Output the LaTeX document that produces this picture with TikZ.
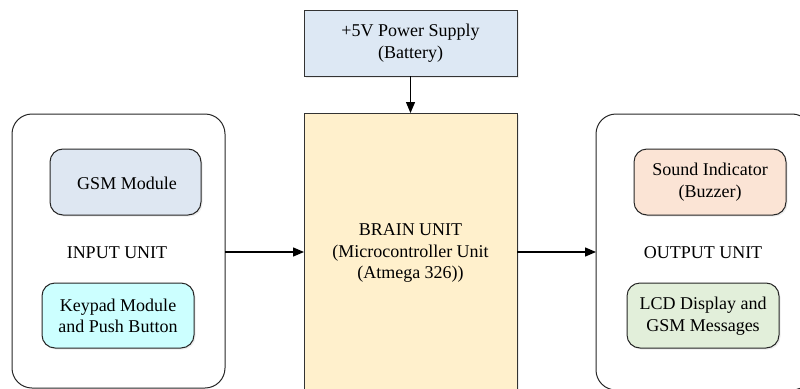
\documentclass[tikz,border=0pt]{standalone}
\usepackage{fontspec}
\setmainfont{Liberation Serif}
\usetikzlibrary{arrows.meta,shadows}
\definecolor{psfill}{HTML}{DDE8F4}
\definecolor{brainfill}{HTML}{FFF0CC}
\definecolor{gsmfill}{HTML}{DEE7F2}
\definecolor{keyfill}{HTML}{CCFFFF}
\definecolor{soundfill}{HTML}{FBE4D5}
\definecolor{lcdfill}{HTML}{E2EFDA}
\tikzset{
  txt/.style={font=\fontsize{18}{21.5}\selectfont, align=center},
  sharpbox/.style={draw=black!80, line width=1pt, drop shadow={shadow xshift=1.5pt, shadow yshift=-1.5pt, opacity=0.15}},
  innerbox/.style={draw=black!85, line width=1pt, rounded corners=13pt, drop shadow={shadow xshift=1.5pt, shadow yshift=-1.5pt, opacity=0.15}},
  outerbox/.style={draw=black!85, line width=1pt, rounded corners=20pt},
  conn/.style={-{Triangle[length=11pt,width=9pt]}, line width=1.3pt}
}
\begin{document}
\begin{tikzpicture}[x=1pt,y=-1pt]
\useasboundingbox (0,0) rectangle (800,388);
\clip (0,0) rectangle (800,388);
% outer units
\draw[outerbox] (12,114) rectangle (225,388);
\draw[outerbox] (596,114) rectangle (812,390);
\coordinate (inR) at (225,252);
\coordinate (outL) at (596,252);
% power supply
\draw[sharpbox, fill=psfill] (304,10) rectangle (517,76);
\node[txt] (ps) at (410.5,43) {+5V Power Supply\\(Battery)};
\coordinate (psB) at (410.5,76);
% brain
\draw[sharpbox, fill=brainfill] (304,113) rectangle (517,400);
\coordinate (brT) at (410.5,113);
\coordinate (brL) at (304,252);
\coordinate (brR) at (517,252);
\node[txt] (brain) at (410.5,253) {BRAIN UNIT\\(Microcontroller Unit\\(Atmega 326))};
% input inner
\draw[innerbox, fill=gsmfill] (50,149) rectangle (201,215);
\node[txt] (gsm) at (127,183) {GSM Module};
\node[txt] (inlbl) at (117,253) {INPUT UNIT};
\draw[innerbox, fill=keyfill] (42,283) rectangle (194,348);
\node[txt] (key) at (118,316) {Keypad Module\\and Push Button};
% output inner
\draw[innerbox, fill=soundfill] (634,149) rectangle (786,215);
\node[txt] (snd) at (710,182) {Sound Indicator\\(Buzzer)};
\node[txt] (outlbl) at (703,253) {OUTPUT UNIT};
\draw[innerbox, fill=lcdfill] (627,283) rectangle (779,348);
\node[txt] (lcd) at (703,316) {LCD Display and\\GSM Messages};
% connectors
\draw[conn] (psB) -- (brT);
\draw[conn] (inR) -- (brL);
\draw[conn] (brR) -- (outL);
\end{tikzpicture}
\end{document}
